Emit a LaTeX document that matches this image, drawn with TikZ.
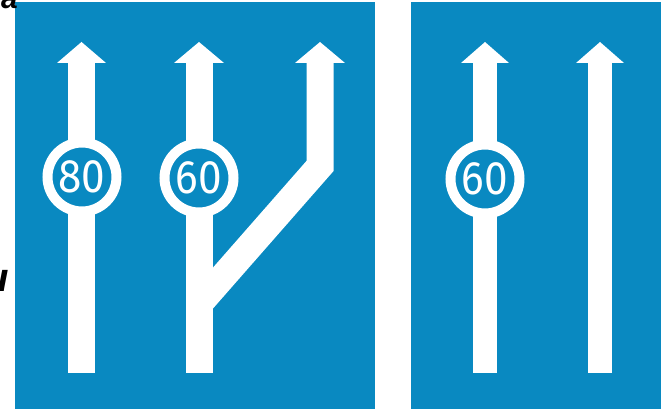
\documentclass[tikz,border=0pt]{standalone}
\usepackage{fontspec}
\setmainfont{Liberation Sans}
\newfontfamily\digitfont{Fira Sans}
\newfontfamily\strayfont{Liberation Sans}
\definecolor{signblue}{RGB}{9,137,193}
\begin{document}
\begin{tikzpicture}[x=1pt,y=-1pt,
  panel/.style={fill=signblue,draw=none},
  shaft/.style={fill=white,draw=none},
  speed/.style={circle,fill=signblue,draw=white,line width=10pt,minimum size=69pt,inner sep=0pt,
    font=\digitfont\fontsize{47}{47}\selectfont,text=white},
  stray/.style={font=\strayfont\bfseries\itshape,text=black,inner sep=0pt}]
\useasboundingbox (0,0) rectangle (665,409);
\clip (0,0) rectangle (665,409);
% panels
\fill[panel] (15,2) rectangle (375,409);
\fill[panel] (411,2) rectangle (661,409);
% stray text fragments
\node[stray,font=\strayfont\bfseries\itshape\fontsize{30}{30}\selectfont,anchor=base east] (s1) at (18,9) {a};
\node[stray,font=\strayfont\bfseries\itshape\fontsize{40}{40}\selectfont,anchor=base east] (s2) at (9,292) {u};
% arrow 1
\fill[shaft] (68,60) rectangle (95,373);
\fill[shaft] (57,63) -- (81.5,42) -- (106,63) -- cycle;
% arrow 2
\fill[shaft] (185.5,60) rectangle (212.5,373);
\fill[shaft] (174,63) -- (199,42) -- (224,63) -- cycle;
% branch arrow
\draw[white,line width=27pt,line join=miter] (320,60) -- (320,166) -- (199,304);
\fill[shaft] (295,63) -- (320,42) -- (345,63) -- cycle;
% arrow 3
\fill[shaft] (473,60) rectangle (497,373);
\fill[shaft] (461,63) -- (485,42) -- (509,63) -- cycle;
% arrow 4
\fill[shaft] (588,60) rectangle (612,373);
\fill[shaft] (576,63) -- (600,42) -- (624,63) -- cycle;
% speed circles
\node[speed] (c80) at (82,177) {\scalebox{0.9}[1]{80}};
\node[speed] (c60a) at (199,178) {\scalebox{0.9}[1]{60}};
\node[speed] (c60b) at (485,179) {\scalebox{0.9}[1]{60}};
\end{tikzpicture}
\end{document}
